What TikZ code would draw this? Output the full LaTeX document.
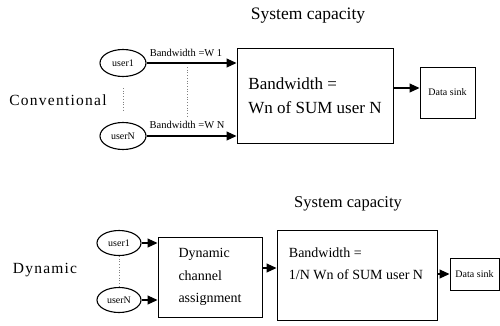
\documentclass[tikz,border=0pt]{standalone}
\usepackage{fontspec}
\setmainfont{Liberation Serif}
\newfontfamily\widefont[LetterSpace=8]{Liberation Serif}
\usetikzlibrary{shapes.geometric,arrows.meta}
\tikzset{
  box/.style={draw, line width=1pt, inner sep=0pt},
  usr/.style={draw, ellipse, line width=1.1pt, inner sep=0pt, font=\fontsize{10}{10}\selectfont},
  flow/.style={line width=1.1pt, -{Triangle[length=10pt,width=9pt]}},
  dots/.style={dotted, line width=0.7pt, gray},
  side/.style={font=\widefont\fontsize{15.5}{16}\selectfont},
  bwlabel/.style={font=\fontsize{10.5}{12}\selectfont, inner sep=0pt},
  sink/.style={box, font=\fontsize{10}{12}\selectfont}
}
\begin{document}
\begin{tikzpicture}[x=1pt,y=-1pt]
\useasboundingbox (0,0) rectangle (500,325);

% ---------- conventional scheme ----------
\node[font=\fontsize{17.5}{18}\selectfont] (capA) at (308,16) {System capacity};
\node[side] (conv) at (58,100) {Conventional};
\node[usr, minimum width=46pt, minimum height=27pt] (a1) at (123,63) {user1};
\node[usr, minimum width=46pt, minimum height=27pt] (aN) at (123,136) {userN};
\node[box, minimum width=156pt, minimum height=95pt, align=left,
      font=\fontsize{17}{24}\selectfont] (bwA) at (315,95.5)
      {Bandwidth =\\Wn of SUM user N};
\node[sink, minimum width=55pt, minimum height=51pt] (sinkA) at (447.5,92.5) {Data sink};

\draw[flow] (a1.east) -- (a1.east -| bwA.west);
\draw[flow] (aN.east) -- (aN.east -| bwA.west);
\node[bwlabel] (lw1) at (186,53) {Bandwidth =W 1};
\node[bwlabel] (lwN) at (187,125) {Bandwidth =W N};
\draw[dots, shorten >=10pt, shorten <=11pt] (a1.south) -- (aN.north);
\coordinate (dt) at (187,67);
\coordinate (db) at (187,118);
\draw[dots] (dt) -- (db);
\draw[flow] ([yshift=7.5pt]bwA.east) -- ([yshift=7.5pt]bwA.east -| sinkA.west);

% ---------- dynamic scheme ----------
\node[font=\fontsize{16.5}{18}\selectfont] (capB) at (348,204) {System capacity};
\node[side] (dyn) at (45,270) {Dynamic};
\node[usr, minimum width=44pt, minimum height=25pt] (b1) at (119,243) {user1};
\node[usr, minimum width=44pt, minimum height=25pt] (bN) at (119,300) {userN};
\node[box, minimum width=104pt, minimum height=80pt, align=left,
      font=\fontsize{14}{22.5}\selectfont] (dca) at (210,277)
      {Dynamic\\channel\\assignment};
\node[box, minimum width=160pt, minimum height=90pt] (bwB) at (357,275) {};
\node[align=left, inner sep=0pt, font=\fontsize{14}{22}\selectfont] (bwBtext) at (356,264)
      {Bandwidth =\\1/N Wn of SUM user N};
\node[sink, minimum width=49pt, minimum height=32pt] (sinkB) at (474.5,274) {Data sink};

\draw[flow] (b1.east) -- (b1.east -| dca.west);
\draw[flow] (bN.east) -- (bN.east -| dca.west);
\draw[dots] (b1.south) -- (bN.north);
\draw[flow] ([yshift=9pt]dca.east) -- ([yshift=9pt]dca.east -| bwB.west);
\draw[flow] ([yshift=1pt]bwB.east) -- ([yshift=1pt]bwB.east -| sinkB.west);
\end{tikzpicture}
\end{document}
